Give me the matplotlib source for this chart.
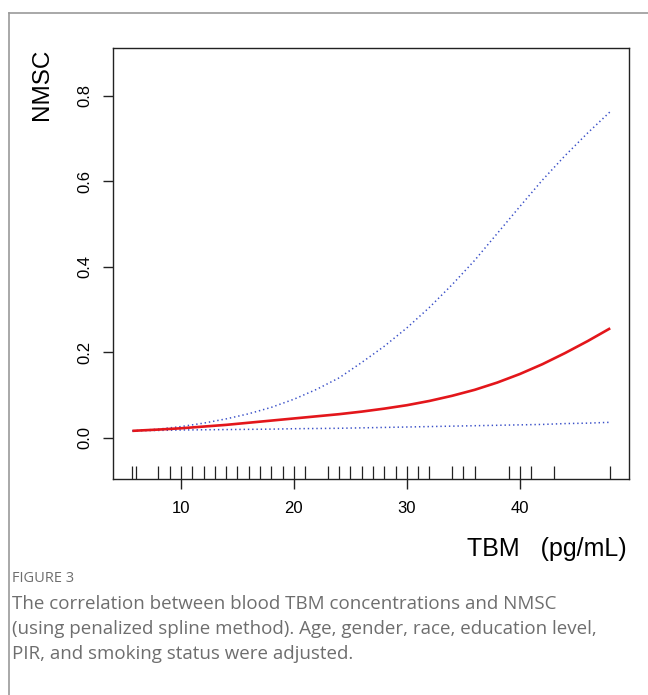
import matplotlib
matplotlib.use("Agg")
import matplotlib.pyplot as plt
from matplotlib.lines import Line2D

# ---- data ----
tbm = [5.7, 8, 10, 12, 14, 16, 18, 20, 22, 24, 26, 28, 30, 32, 34, 36, 38, 40, 42, 44, 46, 48]
fit = [0.016, 0.019, 0.022, 0.026, 0.030, 0.035, 0.040, 0.045, 0.050, 0.055, 0.061, 0.068,
       0.076, 0.086, 0.098, 0.112, 0.129, 0.149, 0.172, 0.198, 0.226, 0.256]
upper = [0.016, 0.020, 0.026, 0.034, 0.044, 0.056, 0.071, 0.090, 0.113, 0.140, 0.176, 0.214,
         0.257, 0.305, 0.358, 0.415, 0.478, 0.541, 0.603, 0.660, 0.713, 0.763]
lower = [0.016, 0.017, 0.018, 0.0185, 0.019, 0.0195, 0.020, 0.021, 0.0215, 0.022, 0.023, 0.024,
         0.025, 0.026, 0.027, 0.028, 0.029, 0.030, 0.031, 0.033, 0.034, 0.036]
rug_x = [5.7, 6, 8, 9, 10, 11, 12, 13, 14, 15, 16, 17, 18, 19, 20, 21, 23, 24, 25, 26, 27, 28,
         29, 30, 31, 32, 34, 35, 36, 39, 40, 41, 43, 48]
x_ticks = [10, 20, 30, 40]
y_ticks = [0.0, 0.2, 0.4, 0.6, 0.8]
y_tick_labels = ["0.0", "0.2", "0.4", "0.6", "0.8"]

plt.rcParams['font.family'] = ['Liberation Sans', 'DejaVu Sans']

W, H = 648, 695
fig = plt.figure(figsize=(W / 100, H / 100), dpi=100)

# panel border (top and left)
fig.add_artist(Line2D([9 / W, 1.0], [1 - 13 / H, 1 - 13 / H], color='#9a9a9a', lw=1.2,
                      transform=fig.transFigure))
fig.add_artist(Line2D([9 / W, 9 / W], [0, 1 - 13 / H], color='#9a9a9a', lw=1.2,
                      transform=fig.transFigure))

ax = fig.add_axes([113.3 / W, 1 - 479 / H, (629.3 - 113.3) / W, (479 - 48) / H])
ax.plot(tbm, upper, color='#3a50c8', lw=1.1, linestyle=(0, (0.9, 1.9)))
ax.plot(tbm, lower, color='#3a50c8', lw=1.1, linestyle=(0, (0.9, 1.9)))
ax.plot(tbm, fit, color='#e3161b', lw=1.9, solid_capstyle='butt', solid_joinstyle='round')
ax.vlines(rug_x, 0, 0.031, transform=ax.get_xaxis_transform(), color='#222222', lw=0.9)

ax.set_xlim(4.01, 49.69)
ax.set_ylim(-0.0967, 0.912)
ax.set_xticks(x_ticks)
ax.set_xticklabels([str(v) for v in x_ticks])
ax.set_yticks(y_ticks)
ax.set_yticklabels(y_tick_labels, rotation=90, va='center')
ax.tick_params(axis='both', direction='out', length=7.5, width=1.0, color='#222222',
               labelsize=12, pad=8.5)
ax.tick_params(axis='y', pad=7.5)
for s in ax.spines.values():
    s.set_color('#222222')
    s.set_linewidth(1.0)

fig.text(42 / W, 1 - 84 / H, "NMSC", rotation=90, ha='center', va='center', fontsize=17.5)
fig.text(627 / W, 1 - 549 / H, "TBM   (pg/mL)", ha='right', va='center', fontsize=18)

cap_font = ['Open Sans', 'DejaVu Sans']
fig.text(12 / W, 1 - 578 / H, "FIGURE 3", ha='left', va='center', fontsize=10.5,
         color='#6e6e6e', family=cap_font)
caption = ["The correlation between blood TBM concentrations and NMSC",
           "(using penalized spline method). Age, gender, race, education level,",
           "PIR, and smoking status were adjusted."]
for i, line in enumerate(caption):
    fig.text(12 / W, 1 - (604 + 25 * i) / H, line, ha='left', va='center', fontsize=13.5,
             color='#6e6e6e', family=cap_font)

fig.savefig("out.png", dpi=100)
